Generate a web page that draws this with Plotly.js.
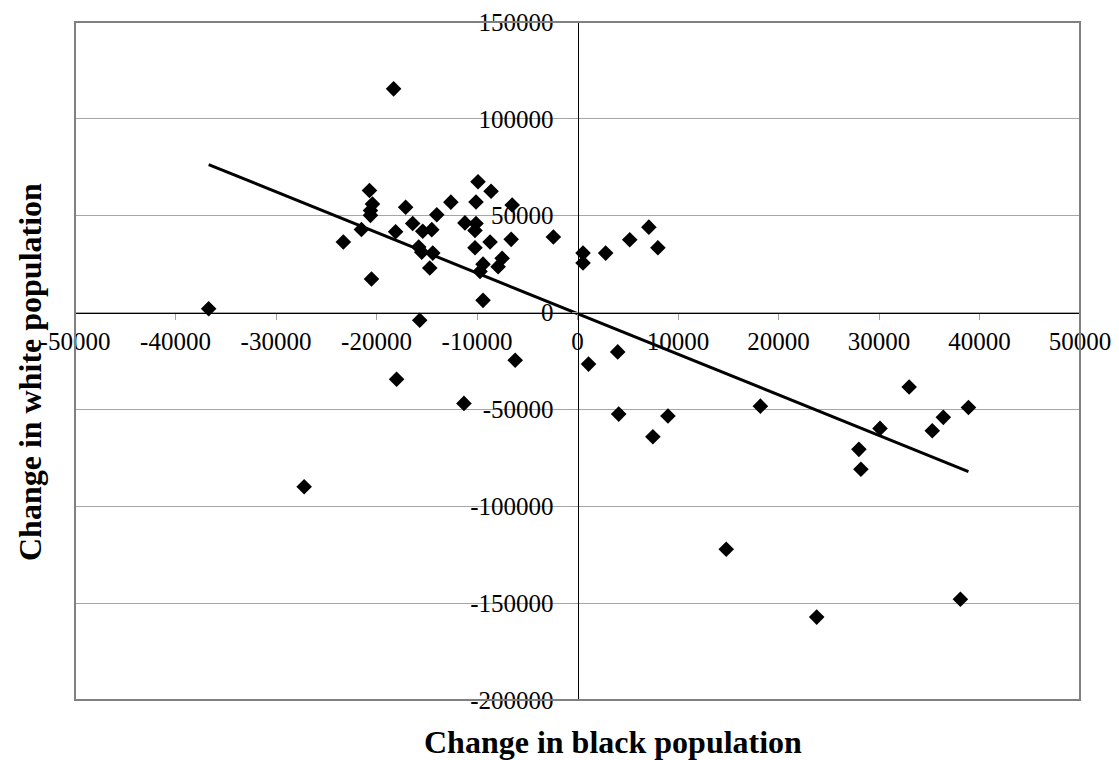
<!DOCTYPE html>
<html>
<head>
<meta charset="utf-8">
<script src="https://cdn.plot.ly/plotly-3.0.1.min.js"></script>
<style>html,body{margin:0;padding:0;background:#fff;}#chart{width:1119px;height:760px;}</style>
</head>
<body>
<div id="chart"></div>
<script>
// Change in black population (x) vs change in white population (y)
const blackChange = [
  -36700, -27200, -23300, -21500, -20700, -20400, -20600, -20600, -20500, -18300,
  -18100, -18000, -17100, -16400, -15800, -15500, -15700, -15400, -14500, -14400,
  -14700, -14000, -12600, -11200, -11300, -10100, -10200, -10200, -9900, -10100,
  -9400, -9700, -9400, -8600, -8700, -7500, -7900, -6500, -6600, -6200,
  -2400, 550, 550, 1100, 2800, 4000, 4100, 5200, 7100, 7500,
  8000, 9000, 14800, 18200, 23800, 28000, 28200, 30100, 33000, 35300,
  36400, 38100, 38900
];
const whiteChange = [
  2000, -89900, 36400, 42900, 63000, 56000, 52700, 50200, 17300, 115500,
  41700, -34400, 54400, 46000, 33800, 31200, -4000, 42000, 42800, 30700,
  23000, 50500, 57000, 46300, -46900, 46000, 42400, 33500, 67500, 57100,
  25000, 21200, 6300, 62600, 36400, 28000, 23700, 55500, 37800, -24600,
  39000, 30700, 25600, -26600, 30700, -20300, -52400, 37600, 44100, -64100,
  33500, -53400, -122200, -48300, -157200, -70600, -80900, -59800, -38400, -61000,
  -54100, -148000, -49000
];
const xTickVals = [-50000, -40000, -30000, -20000, -10000, 0, 10000, 20000, 30000, 40000, 50000];
const xTickText = ["-50000", "-40000", "-30000", "-20000", "-10000", "0", "10000", "20000", "30000", "40000", "50000"];
const yTickVals = [-200000, -150000, -100000, -50000, 0, 50000, 100000, 150000];
const yTickText = ["-200000", "-150000", "-100000", "-50000", "0", "50000", "100000", "150000"];
const xTitle = "Change in black population";
const yTitle = "Change in white population";

// linear least-squares trend line over the data range
function fit(xs, ys) {
  const n = xs.length;
  let sx = 0, sy = 0, sxx = 0, sxy = 0;
  for (let i = 0; i < n; i++) { sx += xs[i]; sy += ys[i]; sxx += xs[i]*xs[i]; sxy += xs[i]*ys[i]; }
  const b = (n*sxy - sx*sy) / (n*sxx - sx*sx);
  const a = (sy - b*sx) / n;
  return {a, b};
}
const f = fit(blackChange, whiteChange);
const xMin = Math.min(...blackChange), xMax = Math.max(...blackChange);
const trendX = [xMin, xMax];
const trendY = trendX.map(v => f.a + f.b * v);

const font = "Liberation Serif, Times New Roman, serif";

const traces = [
  {
    x: blackChange, y: whiteChange, type: "scatter", mode: "markers",
    marker: {symbol: "diamond", size: 12, color: "#000"},
    hoverinfo: "x+y", showlegend: false
  },
  {
    x: trendX, y: trendY, type: "scatter", mode: "lines",
    line: {color: "#000", width: 3}, hoverinfo: "skip", showlegend: false
  }
];

const layout = {
  width: 1119, height: 760,
  margin: {l: 75, r: 39, t: 22, b: 60},
  paper_bgcolor: "#fff", plot_bgcolor: "#fff",
  font: {family: font, color: "#000", size: 25},
  showlegend: false,
  xaxis: {
    range: [-50000, 50000], tickmode: "array", tickvals: xTickVals, ticktext: xTickText,
    anchor: "free", position: 200000/350000,
    showgrid: false, zeroline: false,
    showline: true, linecolor: "#000", linewidth: 1.5,
    ticks: "outside", ticklen: 6, tickcolor: "#a0a0a0", tickwidth: 1,
    tickfont: {family: font, size: 25, color: "#000"}
  },
  yaxis: {
    range: [-200000, 150000], tickmode: "array", tickvals: yTickVals, ticktext: yTickText,
    anchor: "free", position: 0.5,
    showgrid: true, gridcolor: "#a6a6a6", gridwidth: 1,
    zeroline: false,
    showline: true, linecolor: "#000", linewidth: 1.5,
    ticks: "outside", ticklen: 6, tickcolor: "#a0a0a0", tickwidth: 1,
    ticklabelstandoff: 13,
    tickfont: {family: font, size: 25, color: "#000"}
  },
  shapes: [
    {type: "rect", xref: "paper", yref: "paper", x0: 0, x1: 1, y0: 0, y1: 1,
     line: {color: "#808080", width: 2}, layer: "above"}
  ],
  annotations: [
    {text: "<b>" + xTitle + "</b>", xref: "paper", yref: "paper",
     x: (613-75)/1005, y: (700-742)/678, xanchor: "center", yanchor: "middle",
     showarrow: false, font: {family: font, size: 32, color: "#000"}},
    {text: "<b>" + yTitle + "</b>", xref: "paper", yref: "paper",
     x: (30-75)/1005, y: (700-372)/678, xanchor: "center", yanchor: "middle",
     textangle: -90, showarrow: false, font: {family: font, size: 32, color: "#000"}}
  ]
};

Plotly.newPlot("chart", traces, layout, {displayModeBar: false, staticPlot: true});
</script>
</body>
</html>
